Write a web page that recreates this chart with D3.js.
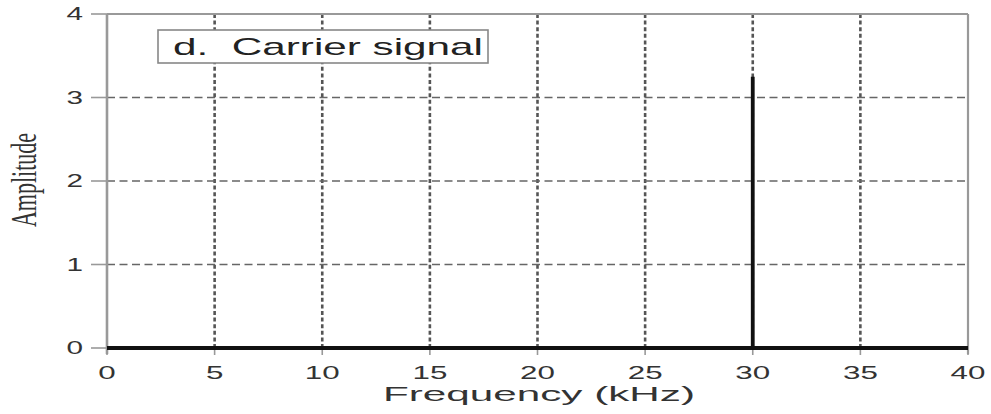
<!DOCTYPE html>
<html>
<head>
<meta charset="utf-8">
<script src="https://cdn.jsdelivr.net/npm/d3@7"></script>
<style>
  html, body { margin: 0; padding: 0; background: #fff; }
  svg { display: block; }
</style>
</head>
<body>
<svg id="chart" width="991" height="414"></svg>
<script>
// Spectrum of the carrier: flat zero line with a single line at 30 kHz
const frequency = [0, 30, 30, 30, 40];
const amplitude = [0, 0, 3.25, 0, 0];

const xTicks = [0, 5, 10, 15, 20, 25, 30, 35, 40];
const yTicks = [0, 1, 2, 3, 4];
const xTitle = "Frequency (kHz)";
const yTitle = "Amplitude";
const panelTitle = "d.\u00a0\u00a0Carrier signal";

const W = 991, H = 414;
const margin = { top: 14, right: 23, bottom: 66, left: 107 };
const innerW = W - margin.left - margin.right;
const innerH = H - margin.top - margin.bottom;
const sans = "'Liberation Sans', Arial, Helvetica, sans-serif";
const serif = "'Liberation Serif', 'Times New Roman', Times, serif";

const svg = d3.select("#chart");
const g = svg.append("g").attr("transform", `translate(${margin.left},${margin.top})`);

const x = d3.scaleLinear().domain([0, 40]).range([0, innerW]);
const y = d3.scaleLinear().domain([0, 4]).range([innerH, 0]);

// dashed grid
g.append("g").selectAll("line")
  .data(xTicks.filter(t => t > 0 && t < 40))
  .join("line")
  .attr("x1", d => x(d)).attr("x2", d => x(d))
  .attr("y1", 0).attr("y2", innerH)
  .attr("stroke", "#555").attr("stroke-width", 2.6)
  .attr("stroke-dasharray", "4,2.6");

g.append("g").selectAll("line")
  .data(yTicks.filter(t => t > 0 && t < 4))
  .join("line")
  .attr("x1", 0).attr("x2", innerW)
  .attr("y1", d => y(d)).attr("y2", d => y(d))
  .attr("stroke", "#666").attr("stroke-width", 1.6)
  .attr("stroke-dasharray", "8,4.5");

// frame: top, right, left
g.append("line").attr("x1", 0).attr("x2", innerW).attr("y1", 0).attr("y2", 0)
  .attr("stroke", "#999").attr("stroke-width", 1.8);
g.append("line").attr("x1", innerW).attr("x2", innerW).attr("y1", 0).attr("y2", innerH + 6)
  .attr("stroke", "#999").attr("stroke-width", 2.2);
g.append("line").attr("x1", 0).attr("x2", 0).attr("y1", 0).attr("y2", innerH + 6)
  .attr("stroke", "#999").attr("stroke-width", 2.6);

// y axis ticks and labels
const yAxis = g.append("g");
yAxis.selectAll("line").data(yTicks).join("line")
  .attr("x1", -16).attr("x2", 0)
  .attr("y1", d => y(d)).attr("y2", d => y(d))
  .attr("stroke", "#999").attr("stroke-width", 1.6);
yAxis.selectAll("text").data(yTicks).join("text")
  .attr("transform", d => `translate(-24,${y(d)}) scale(1.65,1)`)
  .attr("text-anchor", "end")
  .attr("dominant-baseline", "central")
  .style("font-family", sans)
  .style("font-size", "18px")
  .style("fill", "#333")
  .text(d => d);

// x axis ticks and labels
const xAxis = g.append("g");
xAxis.selectAll("line").data(xTicks).join("line")
  .attr("x1", d => x(d)).attr("x2", d => x(d))
  .attr("y1", innerH).attr("y2", innerH + 7)
  .attr("stroke", "#999").attr("stroke-width", 1.6);
xAxis.selectAll("text").data(xTicks).join("text")
  .attr("transform", d => `translate(${x(d)},${innerH + 31}) scale(1.65,1)`)
  .attr("text-anchor", "middle")
  .style("font-family", sans)
  .style("font-size", "19px")
  .style("fill", "#333")
  .text(d => d);

// spectrum line
const line = d3.line().x((d, i) => x(frequency[i])).y(d => y(d));
g.append("path")
  .datum(amplitude)
  .attr("d", line)
  .attr("fill", "none")
  .attr("stroke", "#111")
  .attr("stroke-width", 3.8)
  .attr("stroke-linejoin", "bevel");

// panel title box
const box = g.append("g").attr("transform", `translate(${158 - margin.left},${30 - margin.top})`);
box.append("rect").attr("width", 330).attr("height", 33)
  .attr("fill", "#fff").attr("stroke", "#888").attr("stroke-width", 1.6);
box.append("text")
  .attr("x", 15).attr("y", 25)
  .attr("textLength", 310)
  .attr("lengthAdjust", "spacingAndGlyphs")
  .style("font-family", sans)
  .style("font-size", "24px")
  .style("fill", "#222")
  .text(panelTitle);

// axis titles
svg.append("text")
  .attr("x", 383).attr("y", 401)
  .attr("textLength", 312)
  .attr("lengthAdjust", "spacingAndGlyphs")
  .style("font-family", sans)
  .style("font-size", "20px")
  .style("fill", "#333")
  .text(xTitle);

svg.append("text")
  .attr("transform", "translate(36,180) rotate(-90) scale(1,1.6)")
  .attr("text-anchor", "middle")
  .style("font-family", serif)
  .style("font-size", "22px")
  .style("fill", "#333")
  .text(yTitle);
</script>
</body>
</html>
